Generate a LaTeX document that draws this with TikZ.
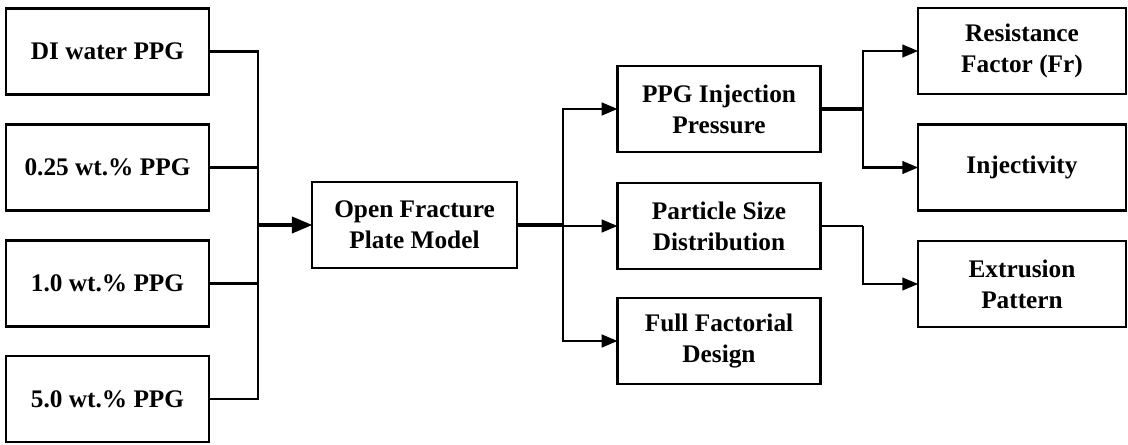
\documentclass[tikz,border=0pt]{standalone}
\usepackage{fontspec}
\setmainfont{Liberation Serif}
\usetikzlibrary{arrows}
\usetikzlibrary{shapes}

\begin{document}
\begin{tikzpicture}[x=0.025cm, y=-0.025cm]
   \tikzset{BoxStyle/.style={draw, line width=1.8pt, fill=white, outer sep=0pt, align=center,
      minimum width=5.08cm, minimum height=2.16cm, inner sep=0pt,
      font=\fontsize{18}{22}\selectfont\bfseries}}
   \tikzset{LinkStyle/.style={line width=1.6pt}}
   \tikzset{ArrowStyle/.style={LinkStyle, -triangle 45}}
   \useasboundingbox (0,0) rectangle (1128,445);
   \node[BoxStyle] (di)   at (107.5,51.5) {DI water PPG};
   \node[BoxStyle] (c025) at (107.5,167.5) {0.25 wt.\% PPG};
   \node[BoxStyle] (c10)  at (107.5,283.5) {1.0 wt.\% PPG};
   \node[BoxStyle] (c50)  at (107.5,399) {5.0 wt.\% PPG};
   \node[BoxStyle, minimum width=5.12cm] (model) at (414.5,225) {Open Fracture\\Plate Model};
   \node[BoxStyle] (press) at (719,109) {PPG Injection\\Pressure};
   \node[BoxStyle] (psd)   at (719,226) {Particle Size\\Distribution};
   \node[BoxStyle] (ffd)   at (719,341) {Full Factorial\\Design};
   \node[BoxStyle, minimum width=5.2cm] (fr)   at (1022,51) {Resistance\\Factor (Fr)};
   \node[BoxStyle, minimum width=5.2cm] (inj)  at (1022,167.5) {Injectivity};
   \node[BoxStyle, minimum width=5.2cm] (extr) at (1022,284) {Extrusion\\Pattern};
   \coordinate (jl) at (258,225);
   \coordinate (jm) at (563,225);
   \coordinate (jr) at (863,109);
   \coordinate (je) at (863,226);
   \draw[LinkStyle] (di.east) -| (jl);
   \draw[LinkStyle] (c025.east) -| (jl);
   \draw[LinkStyle] (c10.east) -| (jl);
   \draw[LinkStyle] (c50.east) -| (jl);
   \draw[ArrowStyle, line width=2.4pt] (jl) -- (model.west);
   \draw[LinkStyle, line width=2.4pt] (model.east) -- (jm);
   \draw[ArrowStyle] (jm) |- (press.west);
   \draw[ArrowStyle] (jm) |- (psd.west);
   \draw[ArrowStyle] (jm) |- (ffd.west);
   \draw[LinkStyle, line width=2.2pt] (press.east) -- (jr);
   \draw[ArrowStyle] (jr) |- (fr.west);
   \draw[ArrowStyle] (jr) |- (inj.west);
   \draw[LinkStyle] (psd.east) -- (je);
   \draw[ArrowStyle] (je) |- (extr.west);
\end{tikzpicture}
\end{document}
